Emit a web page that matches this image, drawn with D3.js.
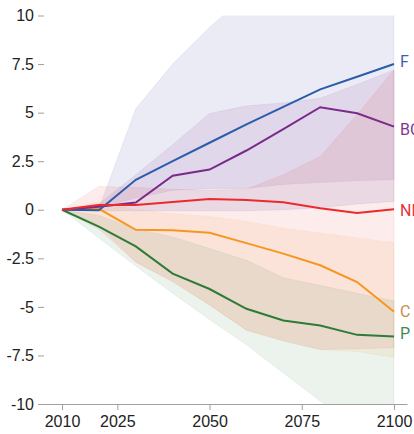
<!DOCTYPE html>
<meta charset="utf-8">
<style>body { margin: 0; }</style>
<div id="chart"></div>
<script src="https://cdn.jsdelivr.net/npm/d3@7"></script>
<script>
	// data
	const years = [2010, 2020, 2030, 2040, 2050, 2060, 2070, 2080, 2090, 2100];
	const names = ["F", "BC", "NL", "C", "P"];
	const yTicks = [-10, -7.5, -5, -2.5, 0, 2.5, 5, 7.5, 10];
	const xTicks = [2010, 2025, 2050, 2075, 2100];

	const valF  = [0, -0.03, 1.54, 2.5, 3.45, 4.4, 5.3, 6.2, 6.85, 7.5];
	const valBC = [0, 0.15, 0.37, 1.75, 2.07, 3.05, 4.15, 5.28, 4.97, 4.28];
	const valNL = [0, 0.25, 0.25, 0.4, 0.55, 0.5, 0.38, 0.08, -0.17, 0.03];
	const valC  = [0, 0.05, -1.03, -1.06, -1.18, -1.72, -2.26, -2.86, -3.72, -5.25];
	const valP  = [0, -0.87, -1.89, -3.29, -4.08, -5.1, -5.7, -5.96, -6.44, -6.53];

	// uncertainty ranges (low / high)
	const lowF  = [0, -0.05, -0.05, -0.05, -0.05, -0.05, 0, 0.1, 0.3, 0.43];
	const highF = [0, 0.05, 5.2, 7.5, 9.4, 11, 12, 13, 14, 15];
	const lowBC  = [0, 0.1, 0.6, 1.0, 1.1, 1.1, 1.3, 1.4, 1.5, 1.55];
	const highBC = [0, 0.3, 1.8, 3.35, 4.95, 5.35, 5.5, 5.74, 6.45, 7.2];
	const lowNL  = [0, -1.0, -2.7, -3.7, -4.9, -6.2, -6.75, -7.2, -7.15, -7.1];
	const highNL = [0, 1.2, 1.15, 1.05, 1.0, 1.05, 1.8, 2.74, 4.9, 7.2];
	const lowC  = [0, -0.8, -2.7, -3.7, -4.9, -6.2, -6.75, -7.2, -7.3, -7.6];
	const highC = [0, 0.4, 0.0, -0.2, -0.35, -0.6, -0.95, -1.2, -1.45, -1.7];
	const lowP  = [0, -1.45, -2.9, -4.3, -5.65, -6.95, -8.4, -9.85, -11.3, -12.7];
	const highP = [0, -0.3, -1.0, -1.4, -2.0, -2.6, -3.5, -3.9, -4.3, -4.7];

	const lineColors  = ["#2b5caa", "#7a2a8a", "#ec2a2d", "#f7961f", "#2e7b38"];
	const bandColors  = ["#3b3b9e", "#7b2c8a", "#e8282b", "#f7941d", "#2e7d32"];
	const bandOpacity = [0.1, 0.1, 0.09, 0.09, 0.09];
	const labelColors = ["#3d62ad", "#7d3a8d", "#e5333a", "#c98a4c", "#3e8a55"];

	const series = [
		{ name: "F", vals: valF, low: lowF, high: highF },
		{ name: "BC", vals: valBC, low: lowBC, high: highBC },
		{ name: "NL", vals: valNL, low: lowNL, high: highNL },
		{ name: "C", vals: valC, low: lowC, high: highC },
		{ name: "P", vals: valP, low: lowP, high: highP }
	];

	var width = 414, height = 434;
	var svg = d3.select("#chart").append("svg")
		.attr("width", width).attr("height", height)
		.style("display", "block")
		.style("font-family", "Roboto, 'Open Sans', sans-serif");

	const x = d3.scaleLinear().domain([2010, 2100]).range([62, 394]);
	const y = d3.scaleLinear().domain([-10, 10]).range([404, 15.5]);

	svg.append("clipPath").attr("id", "plot")
		.append("rect")
		.attr("x", 0).attr("y", y(10))
		.attr("width", width).attr("height", y(-10) - y(10));

	const bands = svg.append("g").attr("clip-path", "url(#plot)");
	series.forEach((s, i) => {
		const area = d3.area()
			.x((d, j) => x(years[j]))
			.y0((d, j) => y(s.low[j]))
			.y1((d, j) => y(s.high[j]));
		bands.append("path")
			.datum(years)
			.attr("d", area)
			.attr("fill", bandColors[i])
			.attr("fill-opacity", bandOpacity[i])
			.attr("stroke", bandColors[i])
			.attr("stroke-opacity", 0.07)
			.attr("stroke-width", 1);
	});

	// y axis, ticks only
	const yAxis = svg.append("g")
		.attr("transform", "translate(44,0)")
		.call(d3.axisLeft(y).tickValues(yTicks).tickSize(6).tickPadding(4).tickFormat(d => String(d)));
	yAxis.select(".domain").remove();

	// x axis, the line runs a little past the first and last year
	const xAxisScale = x.copy().domain([x.invert(38), x.invert(407)]).range([38, 407]);
	svg.append("g")
		.attr("transform", `translate(0,${y(-10)})`)
		.call(d3.axisBottom(xAxisScale).tickValues(xTicks).tickSize(6).tickPadding(6).tickFormat(d => String(d)).tickSizeOuter(0));

	svg.selectAll(".tick line, .domain").attr("stroke", "#a0a0a0");
	svg.selectAll(".tick text").attr("fill", "#222").style("font-size", "16px");

	const line = d3.line().x((d, j) => x(years[j])).y(d => y(d));
	const order = [4, 3, 1, 0, 2];
	order.forEach(i => {
		svg.append("path")
			.datum(series[i].vals)
			.attr("d", line)
			.attr("fill", "none")
			.attr("stroke", lineColors[i])
			.attr("stroke-width", 2);
	});

	// labels at the end of each line
	const labelShift = { F: -3, BC: 3, NL: 1, C: 0, P: -3 };
	series.forEach((s, i) => {
		svg.append("text")
			.attr("x", 400)
			.attr("y", y(s.vals[s.vals.length - 1]) + labelShift[s.name])
			.attr("dy", "0.35em")
			.attr("fill", labelColors[i])
			.style("font-size", "16px")
			.text(s.name);
	});
</script>
